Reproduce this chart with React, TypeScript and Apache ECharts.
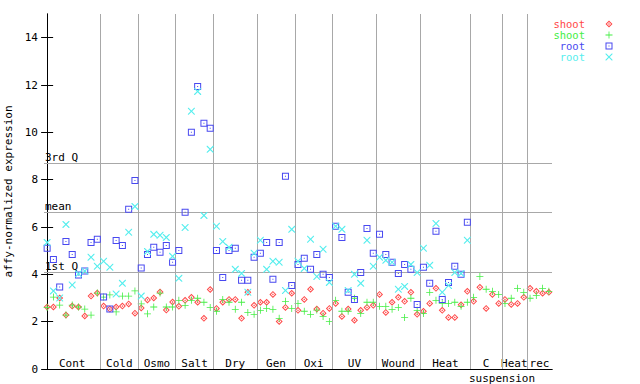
import React, { useEffect, useRef } from "react";
import * as echarts from "echarts";

const FONT = '"DejaVu Sans Mono", monospace';

// Condition groups (x-axis) and their boundaries in sample-index units
const categories = ["Cont", "Cold", "Osmo", "Salt", "Dry", "Gen", "Oxi", "UV", "Wound", "Heat", "C", "Heat", "rec"];
const groupBounds = [-0.5, 8.5, 14.5, 20.5, 26.5, 33.5, 39.5, 45.5, 52.5, 59.5, 67.5, 72.5, 76.5, 80.5];
const yTicks = [0, 2, 4, 6, 8, 10, 12, 14];

// Reference lines
const quartileNames = ["1st Q", "mean", "3rd Q"];
const quartileValues = [4.09, 6.62, 8.69];

// Series values per sample (index 0..80)
const shootRed = [
  2.62, 2.62, 3.0, 2.28, 2.66, 2.62, 2.24, 3.08, 3.21,
  2.66, 2.53, 2.62, 2.66, 2.75, 2.36,
  2.58, 2.92, 3.0, 3.25, 2.49, 2.83,
  2.65, 2.9, 3.03, 2.82, 2.14, 3.36,
  2.56, 2.82, 2.94, 2.94, 2.14, 3.24, 2.69,
  2.82, 2.82, 3.15, 2.01, 2.6, 3.2,
  2.48, 2.94, 3.37, 2.53, 2.36, 2.56,
  2.77, 2.22, 2.53, 2.06, 2.48, 2.6, 2.69,
  3.15, 2.39, 2.82, 3.03, 2.86, 3.24, 2.31,
  2.44, 2.77, 3.41, 2.48, 2.18, 2.18, 2.71, 3.28,
  2.86, 3.45, 2.56, 3.15, 2.77,
  2.94, 2.73, 2.77, 3.03,
  3.41, 3.28, 3.2, 3.24,
];
const shootGreen = [
  2.6, 3.04, 2.7, 2.28, 2.7, 2.62, 2.53, 2.28, 3.21,
  3.04, 3.13, 2.41, 3.08, 3.08, 3.3,
  2.75, 2.33, 2.62, 3.21, 2.62, 2.62,
  2.9, 2.69, 2.9, 2.99, 2.82, 2.6,
  2.44, 2.94, 2.82, 2.52, 2.82, 2.39, 2.31,
  2.48, 2.56, 2.52, 2.14, 2.86, 2.56,
  2.77, 2.44, 2.31, 2.49, 2.22, 2.01,
  2.9, 2.44, 2.44, 2.99, 2.35, 2.82, 2.82,
  2.65, 2.65, 2.52, 2.6, 2.18, 2.99, 2.48,
  2.35, 3.24, 2.9, 2.77, 2.77, 2.82, 2.65, 2.82,
  3.03, 3.91, 3.37, 3.28, 3.15,
  2.77, 2.99, 3.41, 3.24,
  2.99, 3.11, 3.41, 3.28,
];
const rootBlue = [
  5.1, 4.63, 3.46, 5.39, 4.84, 3.97, 4.14, 5.35, 5.48,
  3.04, 2.53, 5.43, 5.22, 6.75, 7.97,
  4.27, 4.84, 5.14, 4.93, 5.22, 4.51,
  5.01, 6.62, 10.0, 11.94, 10.38, 10.17,
  5.01, 3.87, 5.01, 5.1, 3.75, 3.75, 4.72,
  4.89, 5.35, 3.79, 5.35, 8.14, 3.53,
  4.42, 4.68, 4.21, 4.84, 4.0, 3.87,
  6.03, 5.56, 3.24, 2.94, 4.08, 5.94, 4.89,
  5.69, 4.84, 4.51, 4.04, 4.42, 4.21, 2.73,
  4.3, 3.62, 5.82, 2.94, 3.66, 4.34, 4.0, 6.2,
  null, null, null, null, null,
  null, null, null, null,
  null, null, null, null,
];
const rootCyan = [
  5.35, 3.3, 3.0, 6.11, 3.55, 4.02, 4.14, 4.72, 4.34,
  4.55, 4.3, 3.17, 3.62, 5.78, 6.87,
  3.08, 4.97, 5.69, 5.65, 5.56, 4.76,
  3.83, 5.98, 10.89, 11.73, 6.49, 9.28,
  6.03, 5.39, 5.14, 4.21, 4.04, 3.24, 4.89,
  5.44, 4.21, 4.55, 4.51, 3.32, 5.9,
  4.55, 4.25, 5.48, 3.91, 5.06, 3.66,
  6.03, 5.9, 3.32, 4.0, 3.62, 5.44, 4.34,
  4.72, 4.59, 4.51, 3.37, 3.49, 4.42, 4.08,
  5.1, 4.38, 6.15, 3.24, 3.53, 4.08, 4.04, 5.44,
  null, null, null, null, null,
  null, null, null, null,
  null, null, null, null,
];

const legendNames = ["shoot", "shoot", "root", "root"];
const colors = ["#ff4848", "#44ee44", "#4848f0", "#55eeee"];

const P_DIAMOND = "M3.5,0L7,3.5L3.5,7L0,3.5Z M3.5,1.4L1.4,3.5L3.5,5.6L5.6,3.5Z M3.5,2.6L4.4,3.5L3.5,4.4L2.6,3.5Z";
const P_PLUS = "M3.1,0H3.9V3.1H7V3.9H3.9V7H3.1V3.9H0V3.1H3.1Z";
const P_SQUARE = "M0,0H7V7H0Z M1,1V6H6V1Z M3,3H4V4H3Z";
const P_CROSS = "M0,0L0.8,0L3.5,2.7L6.2,0L7,0L7,0.8L4.3,3.5L7,6.2L7,7L6.2,7L3.5,4.3L0.8,7L0,7L0,6.2L2.7,3.5L0,0.8Z";
const paths = [P_DIAMOND, P_PLUS, P_SQUARE, P_CROSS];
const shapeNames = ["mkDiamond", "mkPlus", "mkSquare", "mkCross"];

let registered = false;
function registerShapes() {
  if (registered) return;
  paths.forEach((d, i) => {
    echarts.graphic.registerShape(shapeNames[i], echarts.graphic.extendPath(d, {}));
  });
  registered = true;
}

export default function App() {
  const ref = useRef<HTMLDivElement>(null);
  useEffect(() => {
    if (!ref.current) return;
    registerShapes();
    const chart = echarts.init(ref.current, null, { renderer: "svg" });

    const centers = categories.map((_, i) => (groupBounds[i] + groupBounds[i + 1]) / 2);
    const seriesVals = [shootRed, shootGreen, rootBlue, rootCyan];

    const scatter = seriesVals.map((vals, si) => ({
      type: "scatter",
      name: legendNames[si] + si,
      data: vals.map((v, i) => (v == null ? null : [i, v])).filter((d) => d !== null),
      symbol: "path://" + paths[si],
      symbolSize: 7,
      itemStyle: { color: colors[si], opacity: 1 },
      z: 3 + si,
      silent: true,
    }));

    const lineSeries = {
      type: "scatter",
      name: "lines",
      data: [],
      z: 1,
      silent: true,
      markLine: {
        silent: true,
        symbol: ["none", "none"],
        animation: false,
        lineStyle: { color: "#a8a8a8", width: 1, type: "solid" },
        label: { show: false },
        data: [
          ...groupBounds.slice(1, -1).map((b) => ({ xAxis: b })),
          ...quartileValues.map((q) => ({ yAxis: q })),
        ],
      },
    };

    const legendGraphics: any[] = [];
    legendNames.forEach((n, i) => {
      const y = 24 + i * 11;
      legendGraphics.push({
        type: "text",
        x: 585,
        y,
        silent: true,
        style: {
          text: n,
          fill: colors[i],
          fontSize: 10.5,
          fontFamily: FONT,
          lineHeight: 10,
          align: "right",
          verticalAlign: "middle",
        },
      });
      legendGraphics.push({
        type: shapeNames[i],
        x: 605.5,
        y: y - 3.5,
        silent: true,
        style: { fill: colors[i] },
      });
    });

    const axisBase = {
      type: "value",
      min: 0,
      max: 15,
      splitLine: { show: false },
    };

    chart.setOption({
      animation: false,
      backgroundColor: "#fff",
      textStyle: { fontFamily: FONT },
      grid: {
        left: 44,
        right: 88,
        top: 14,
        bottom: 15,
        containLabel: false,
        outerBoundsMode: "none",
      },
      xAxis: [
        {
          type: "value",
          min: -0.5,
          max: 80.5,
          position: "bottom",
          axisLine: { show: true, lineStyle: { color: "#000", width: 1 } },
          axisTick: { show: false },
          splitLine: { show: false },
          axisLabel: {
            show: true,
            inside: true,
            margin: 0,
            customValues: centers,
            formatter: (v: number) => {
              const idx = centers.findIndex((c) => Math.abs(c - v) < 1e-6);
              return idx >= 0 ? categories[idx] : "";
            },
            color: "#000",
            fontFamily: FONT,
            fontSize: 11,
            hideOverlap: false,
          },
        },
        {
          type: "value",
          min: -0.5,
          max: 80.5,
          position: "top",
          axisLine: { show: true, lineStyle: { color: "#000", width: 1 } },
          axisTick: { show: false },
          axisLabel: { show: false },
          splitLine: { show: false },
        },
      ],
      yAxis: [
        {
          ...axisBase,
          position: "left",
          name: "affy-normalized expression",
          nameLocation: "middle",
          nameRotate: 90,
          nameGap: 29,
          nameTextStyle: { color: "#000", fontFamily: FONT, fontSize: 11 },
          axisLine: { show: true, lineStyle: { color: "#000", width: 1 } },
          axisTick: { show: true, inside: true, length: 6, customValues: yTicks, lineStyle: { color: "#000" } },
          axisLabel: { show: true, customValues: yTicks, margin: 6, color: "#000", fontFamily: FONT, fontSize: 11 },
        },
        {
          ...axisBase,
          position: "right",
          axisLine: { show: true, lineStyle: { color: "#000", width: 1 } },
          axisTick: { show: true, inside: true, length: 6, customValues: yTicks, lineStyle: { color: "#000" } },
          axisLabel: { show: false },
        },
        {
          ...axisBase,
          position: "left",
          axisLine: { show: false },
          axisTick: { show: false },
          axisLabel: {
            show: true,
            inside: true,
            margin: 1,
            customValues: quartileValues,
            formatter: (v: number) => {
              const idx = quartileValues.findIndex((q) => Math.abs(q - v) < 1e-6);
              return idx >= 0 ? quartileNames[idx] : "";
            },
            verticalAlign: "bottom",
            align: "left",
            color: "#000",
            fontFamily: FONT,
            fontSize: 11,
            hideOverlap: false,
          },
        },
      ],
      graphic: [
        ...legendGraphics,
        {
          type: "text",
          x: 502,
          y: 378,
          silent: true,
          style: {
            text: "suspension",
            fill: "#000",
            fontSize: 11,
            fontFamily: FONT,
            align: "center",
            verticalAlign: "middle",
          },
        },
      ],
      series: [lineSeries, ...scatter],
    });

    return () => chart.dispose();
  }, []);

  return (
    <div
      ref={ref}
      style={{ position: "fixed", left: 0, top: 0, width: 640, height: 384, background: "#fff" }}
    />
  );
}
